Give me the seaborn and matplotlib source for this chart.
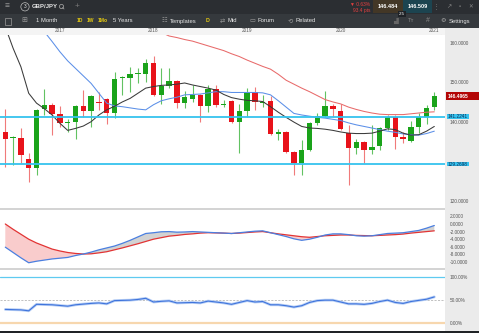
import numpy as np
import matplotlib
matplotlib.use("Agg")
import matplotlib.pyplot as plt
import matplotlib.transforms as mtransforms
from matplotlib.patches import Rectangle
import seaborn as sns

# ---------------- data ----------------
opens = [137.3, 135.8, 135.8, 130.6, 128.4, 143.2, 144.2, 141.9, 139.6, 139.9,
         143.9, 142.7, 145.1, 145.7, 142.1, 151.0, 151.0, 152.0, 152.2, 154.9,
         146.8, 149.0, 150.4, 144.8, 145.7, 146.8, 143.9, 148.3, 144.2, 145.3,
         139.8, 142.7, 147.6, 144.7, 145.3, 136.8, 137.5, 132.3, 129.5, 132.9,
         139.6, 141.4, 143.9, 142.7, 137.1, 133.4, 134.8, 132.9, 133.9, 138.3,
         141.3, 136.2, 135.0, 138.7, 141.3, 143.6]
highs = [143.2, 136.3, 138.5, 132.0, 143.2, 148.3, 144.7, 143.9, 140.7, 144.2,
         148.0, 146.7, 147.5, 146.0, 152.5, 151.5, 153.9, 153.5, 155.9, 156.6,
         153.7, 153.7, 150.6, 147.8, 149.3, 147.0, 149.3, 149.3, 145.5, 145.5,
         144.6, 148.5, 148.9, 146.8, 146.4, 138.1, 137.7, 132.5, 135.3, 139.9,
         142.1, 147.7, 144.4, 144.6, 139.2, 135.6, 135.0, 139.2, 138.7, 141.7,
         141.7, 137.5, 140.1, 142.2, 144.2, 147.4]
lows = [128.6, 129.0, 129.5, 124.7, 126.5, 141.7, 136.6, 138.7, 137.5, 135.6,
        141.3, 138.7, 143.0, 139.3, 141.0, 146.8, 147.4, 149.9, 150.1, 146.6,
        144.6, 148.6, 143.4, 143.5, 145.1, 139.8, 142.5, 143.8, 143.8, 139.6,
        132.0, 141.3, 143.0, 143.8, 136.6, 135.3, 132.0, 126.5, 126.5, 132.6,
        139.2, 141.3, 141.3, 137.9, 124.0, 131.8, 129.5, 131.8, 132.9, 137.9,
        133.1, 134.5, 134.8, 137.1, 139.3, 143.0]
closes = [135.5, 136.1, 131.6, 128.4, 143.0, 144.2, 141.9, 139.6, 139.9, 143.9,
          142.7, 146.4, 144.7, 142.1, 150.7, 151.3, 152.2, 152.3, 154.9, 146.8,
          149.0, 150.4, 144.8, 146.3, 146.8, 143.9, 148.3, 144.2, 144.6, 140.0,
          142.7, 147.6, 145.1, 145.1, 136.8, 137.5, 132.3, 129.5, 132.9, 139.6,
          141.4, 143.9, 143.2, 138.1, 133.4, 134.8, 132.9, 133.7, 138.3, 141.3,
          136.2, 135.5, 138.7, 141.1, 143.5, 146.5]

nan = float("nan")
ma_black = [164.0, 158.6, 153.9, 147.2, 144.7, 143.3, 141.7, 139.6, 137.8, 138.3,
            138.9, 140.0, 141.7, 143.0, 143.9, 145.0, 145.9, 147.2, 148.5, 148.9,
            149.2, 149.3, 149.5, 149.8, 149.3, 148.9, 148.5, 148.0, 146.9, 146.1,
            145.7, 145.4, 145.3, 145.1, 143.8, 142.4, 141.1, 139.9, 138.8, 138.4,
            138.3, 138.1, 137.8, 137.4, 137.1, 137.0, 137.0, 137.1, 137.6, 138.2,
            138.0, 137.1, 136.6, 136.7, 137.6, 138.8]
ma_blue = [nan, nan, nan, nan, nan, 162.8, 160.3, 157.7, 155.4, 153.5,
           151.6, 149.7, 147.2, 144.7, 144.0, 143.8, 143.5, 143.2, 143.0, 144.3,
           145.3, 145.8, 146.2, 146.8, 146.9, 147.0, 147.3, 147.6, 147.6, 147.4,
           147.4, 147.4, 147.4, 147.3, 146.8, 145.3, 143.7, 142.1, 141.7, 141.4,
           141.1, 140.9, 140.6, 140.3, 139.7, 139.2, 138.8, 138.4, 138.0, 137.6,
           137.3, 136.9, 136.7, 136.6, 137.0, 137.6]
ma_red = [nan] * 20 + [162.6, 161.7, 161.3, 160.8, 160.4, 159.8, 159.2, 158.6, 158.0, 157.2,
                       156.5, 155.6, 154.8, 154.0, 153.3, 152.0, 150.5, 149.5, 148.5, 147.6,
                       146.6, 145.6, 145.0, 144.5, 143.7, 143.1, 142.6, 142.2, 141.9, 141.8,
                       141.8, 141.8, 142.0, 142.2, 142.4, 142.5]

macd_line = [-6.1, -7.5, -8.9, -10.2, -9.8, -9.5, -9.2, -9.0, -8.8, -8.3,
             -7.9, -7.4, -6.8, -6.3, -5.8, -5.1, -4.3, -3.4, -2.5, -2.3,
             -2.05, -2.0, -2.15, -2.1, -2.0, -2.1, -2.2, -2.3, -2.4, -2.5,
             -2.3, -2.1, -1.9, -1.8, -2.3, -2.8, -3.3, -3.9, -4.3, -4.0,
             -3.5, -2.9, -2.6, -2.6, -2.8, -3.1, -3.2, -3.1, -2.8, -2.5,
             -2.4, -2.3, -2.0, -1.7, -1.1, -0.4]
signal_line = [0.0, -1.4, -2.7, -4.0, -5.0, -5.8, -6.6, -7.1, -7.5, -7.75,
               -7.9, -7.85, -7.6, -7.3, -6.8, -6.3, -5.75, -5.2, -4.6, -4.0,
               -3.6, -3.2, -3.0, -2.75, -2.6, -2.4, -2.3, -2.35, -2.4, -2.5,
               -2.4, -2.25, -2.1, -2.0, -2.3, -2.6, -2.85, -3.1, -3.35, -3.5,
               -3.3, -3.1, -3.0, -2.9, -2.9, -3.0, -3.05, -3.1, -3.0, -2.9,
               -2.8, -2.65, -2.4, -2.2, -2.0, -1.8]
osc_line = [30, 29.5, 29, 27, 41, 40.5, 40, 38.5, 37, 40,
            41.5, 43, 44, 42, 49, 49.5, 50, 51.5, 54, 46,
            47.5, 48.5, 44, 44.5, 45, 44, 48, 46, 44, 41,
            45, 49, 46, 47, 40, 40, 38, 35, 38, 45,
            49, 50, 50, 46, 42, 42, 41, 43, 47, 50,
            45, 43, 47, 49.5, 52, 57]

year_labels = ["2017", "2018", "2019", "2020", "2021"]
year_index = [7, 19, 31, 43, 55]
level_high = 141.2241
level_low = 129.2698
last_price = 146.4965
price_ticks = [120, 140, 150, 160]
macd_ticks = [2, 0, -2, -4, -6, -8, -10]
osc_ticks = [100, 50, 0]
symbol = "GBP/JPY"
bid, ask, spread = "146.484", "146.509", "2.5"
change_pct, change_pts = "▼ 0.63%", "93.4 pts"

# ---------------- style ----------------
sns.set_style("white")
plt.rcParams["font.family"] = ["Liberation Sans", "DejaVu Sans"]

W, H = 479, 333
fig = plt.figure(figsize=(W / 100, H / 100), dpi=100)
fig.patch.set_facecolor("white")


def pax(x0, y0, x1, y1):
    return fig.add_axes([x0 / W, 1 - y1 / H, (x1 - x0) / W, (y1 - y0) / H])


# background canvas in pixel units
bg = fig.add_axes([0, 0, 1, 1])
bg.set_zorder(-10)
bg.set_xlim(0, W)
bg.set_ylim(H, 0)
bg.axis("off")


def rect(x0, y0, x1, y1, color, **kw):
    bg.add_patch(Rectangle((x0, y0), x1 - x0, y1 - y0, facecolor=color, edgecolor="none", **kw))


rect(0, 0, W, 14, "#2b2e32")
rect(0, 14, W, 28, "#35393d")
rect(0, 28, W, 35, "#f4f4f4")
rect(445, 28, W, 331, "#ebebeb")
rect(0, 208, 445, 210, "#d4d4d4")
rect(0, 268, 445, 270, "#d4d4d4")
rect(0, 331, W, H, "#202326")
rect(373, 0, 403, 13, "#433726")
rect(403, 0, 432, 13, "#1c4450")

wt = "#e6e6e6"
gr = "#9a9a9a"
yl = "#e8cc10"
# toolbar row 1
bg.text(7, 6.5, "≡", color=gr, fontsize=6, ha="center", va="center")
bg.text(25, 6.8, "3", color=wt, fontsize=3.4, ha="center", va="center",
        bbox=dict(boxstyle="circle,pad=0.35", fc="none", ec="#bdbdbd", lw=0.5))
bg.text(32, 6.8, symbol, color=wt, fontsize=4.3, fontweight="bold", ha="left", va="center")
bg.plot([61], [6], marker="o", ms=3, mfc="none", mec=gr, mew=0.6)
bg.plot([62.5, 64], [7.5, 9], color=gr, lw=0.6)
bg.text(77, 6.5, "+", color="#7a7a7a", fontsize=6, ha="center", va="center")
bg.text(360, 4.6, change_pct, color="#e64040", fontsize=3.5, ha="center", va="center")
bg.text(362, 10.6, change_pts, color="#e64040", fontsize=3.5, ha="center", va="center")
bg.text(388, 6.3, bid, color="white", fontsize=4.0, fontweight="bold", ha="center", va="center")
bg.text(417.5, 6.3, ask, color="white", fontsize=4.0, fontweight="bold", ha="center", va="center")
bg.text(402, 14.2, spread, color="white", fontsize=3.2, ha="center", va="center",
        bbox=dict(boxstyle="square,pad=0.2", fc="#1f2226", ec="none"))
bg.text(436, 6.5, "⋮", color="#777", fontsize=5, ha="center", va="center")
bg.text(449, 6.5, "↗", color="#888", fontsize=4.5, ha="center", va="center")
bg.text(460, 6.5, "▫", color="#888", fontsize=4.5, ha="center", va="center")
bg.text(471, 6.5, "✕", color="#888", fontsize=4.0, ha="center", va="center")
# toolbar row 2
bg.add_patch(Rectangle((5, 17.5), 6, 7, fill=False, ec=gr, lw=0.5))
bg.text(24, 21, "⊞", color=gr, fontsize=5, ha="center", va="center")
bg.text(36, 21, "1 Month", color=wt, fontsize=4.2, ha="left", va="center")
bg.text(80, 21, "1D", color=yl, fontsize=3.6, fontweight="bold", ha="center", va="center")
bg.text(90.5, 21, "1W", color=yl, fontsize=3.6, fontweight="bold", ha="center", va="center")
bg.text(103, 21, "1Mo", color=yl, fontsize=3.6, fontweight="bold", ha="center", va="center")
bg.text(113, 21, "5 Years", color=wt, fontsize=4.2, ha="left", va="center")
bg.text(164, 21, "☷", color=gr, fontsize=4.5, ha="center", va="center")
bg.text(170, 21, "Templates", color=wt, fontsize=4.2, ha="left", va="center")
bg.text(208, 21, "D", color=yl, fontsize=3.8, fontweight="bold", ha="center", va="center")
bg.text(222, 21, "⇄", color=gr, fontsize=4.5, ha="center", va="center")
bg.text(228, 21, "Mid", color=wt, fontsize=4.2, ha="left", va="center")
bg.text(252, 21, "▭", color=gr, fontsize=4.5, ha="center", va="center")
bg.text(258, 21, "Forum", color=wt, fontsize=4.2, ha="left", va="center")
bg.text(290, 21, "⟲", color=gr, fontsize=4.5, ha="center", va="center")
bg.text(296, 21, "Related", color=wt, fontsize=4.2, ha="left", va="center")
bg.text(395, 21, "▟", color="#666", fontsize=4.5, ha="center", va="center")
bg.text(411, 21, "Tт", color="#888", fontsize=4.2, ha="center", va="center")
bg.text(428, 21, "#", color="#888", fontsize=5, ha="center", va="center")
bg.text(443, 21, "⚙", color="#aaa", fontsize=4.5, ha="center", va="center")
bg.text(449, 21, "Settings", color=wt, fontsize=4.2, ha="left", va="center")
bg.text(441, 37.5, "⌂", color="#9a9a9a", fontsize=5, ha="center", va="center")

# ---------------- main price panel ----------------
n = len(opens)
x = np.arange(n)
o = np.array(opens)
c = np.array(closes)
up = c >= o
green, red = "#1aa31a", "#e8121a"
body_col = [green if u else red for u in up]
wick_col = ["#62c262" if u else "#f07a7a" for u in up]

ax = pax(0, 35, 445, 208)
ax.set_facecolor("white")
ax.set_xlim(-0.68, 56.37)
ax.set_ylim(118.15, 161.95)

ax.vlines(x, lows, highs, colors=wick_col, lw=0.8, zorder=2)
heights = np.maximum(np.abs(c - o), 0.3)
ax.bar(x, heights, bottom=np.minimum(o, c), width=0.68, color=body_col, zorder=3, linewidth=0)

sns.lineplot(x=x, y=ma_red, ax=ax, color="#e86a6a", lw=0.75, zorder=4)
sns.lineplot(x=x, y=ma_blue, ax=ax, color="#5b8fe8", lw=0.75, zorder=4)
sns.lineplot(x=x, y=ma_black, ax=ax, color="#3a3a3a", lw=0.75, zorder=5)

for lv in (level_high, level_low):
    ax.axhline(lv, color="#35c3ee", lw=1.3, zorder=6)

for s in ax.spines.values():
    s.set_visible(False)
ax.yaxis.tick_right()
ax.set_yticks(price_ticks)
ax.set_yticklabels([f"{v:.4f}" for v in price_ticks])
ax.tick_params(axis="y", length=0, pad=3.2, labelsize=3.4, labelcolor="#555555")
ax.xaxis.tick_top()
ax.set_xticks(year_index)
ax.set_xticklabels(year_labels)
ax.tick_params(axis="x", length=0, pad=1.6, labelsize=3.4, labelcolor="#555555")
ax.set_xlabel("")
ax.set_ylabel("")

tr = mtransforms.blended_transform_factory(ax.transAxes, ax.transData)
ax.add_patch(Rectangle((1.002, last_price - 1.0), 0.08, 2.0, transform=tr, facecolor="#b30606",
                       edgecolor="none", clip_on=False, zorder=10))
ax.text(1.006, last_price, f"{last_price:.4f}", transform=tr, ha="left", va="center",
        fontsize=3.6, fontweight="bold", color="white", clip_on=False, zorder=11)
for lv in (level_high, level_low):
    ax.add_patch(Rectangle((1.004, lv - 0.6), 0.049, 1.2, transform=tr, facecolor="#35c3ee",
                           edgecolor="none", clip_on=False, zorder=10))
    ax.text(1.006, lv, f"{lv:.4f}", transform=tr, ha="left", va="center",
            fontsize=3.4, color="#0c2a55", clip_on=False, zorder=11)

# ---------------- MACD panel ----------------
ax2 = pax(0, 210, 445, 268)
ax2.set_facecolor("white")
ax2.set_xlim(-0.68, 56.37)
ax2.set_ylim(-11.58, 3.68)
m = np.array(macd_line)
sg = np.array(signal_line)
ax2.fill_between(x, m, sg, where=sg >= m, interpolate=True, color="#f9cccc", lw=0, zorder=1)
ax2.fill_between(x, m, sg, where=m > sg, interpolate=True, color="#d2d2d2", lw=0, zorder=1)
sns.lineplot(x=x, y=signal_line, ax=ax2, color="#e23434", lw=0.9, zorder=3)
sns.lineplot(x=x, y=macd_line, ax=ax2, color="#4a7fe0", lw=0.9, zorder=4)
for s in ax2.spines.values():
    s.set_visible(False)
ax2.yaxis.tick_right()
ax2.set_yticks(macd_ticks)
ax2.set_yticklabels([f"{v:.4f}" for v in macd_ticks])
ax2.tick_params(axis="y", length=0, pad=3.2, labelsize=3.4, labelcolor="#555555")
ax2.set_xticks([])
ax2.set_xlabel("")
ax2.set_ylabel("")

# ---------------- oscillator panel ----------------
ax3 = pax(0, 270, 445, 331)
ax3.set_facecolor("white")
ax3.set_xlim(-0.68, 56.37)
ax3.set_ylim(-16.6, 115.1)
ax3.axhline(100, color="#5fcaf0", lw=0.9, zorder=1)
ax3.axhline(50, color="#a8a8a8", lw=0.5, ls=(0, (3, 2)), zorder=1)
ax3.axhline(0, color="#f7d7ae", lw=1.6, zorder=1)
sns.lineplot(x=x, y=osc_line, ax=ax3, color="#b8cff5", lw=2.0, zorder=2)
sns.lineplot(x=x, y=osc_line, ax=ax3, color="#3f74dc", lw=0.8, zorder=3)
for s in ax3.spines.values():
    s.set_visible(False)
ax3.yaxis.tick_right()
ax3.set_yticks(osc_ticks)
ax3.set_yticklabels([f"{v:.2f}%" for v in osc_ticks])
ax3.tick_params(axis="y", length=0, pad=3.2, labelsize=3.4, labelcolor="#555555")
ax3.set_xticks([])
ax3.set_xlabel("")
ax3.set_ylabel("")

fig.savefig("out.png", dpi=100, facecolor=fig.get_facecolor())
